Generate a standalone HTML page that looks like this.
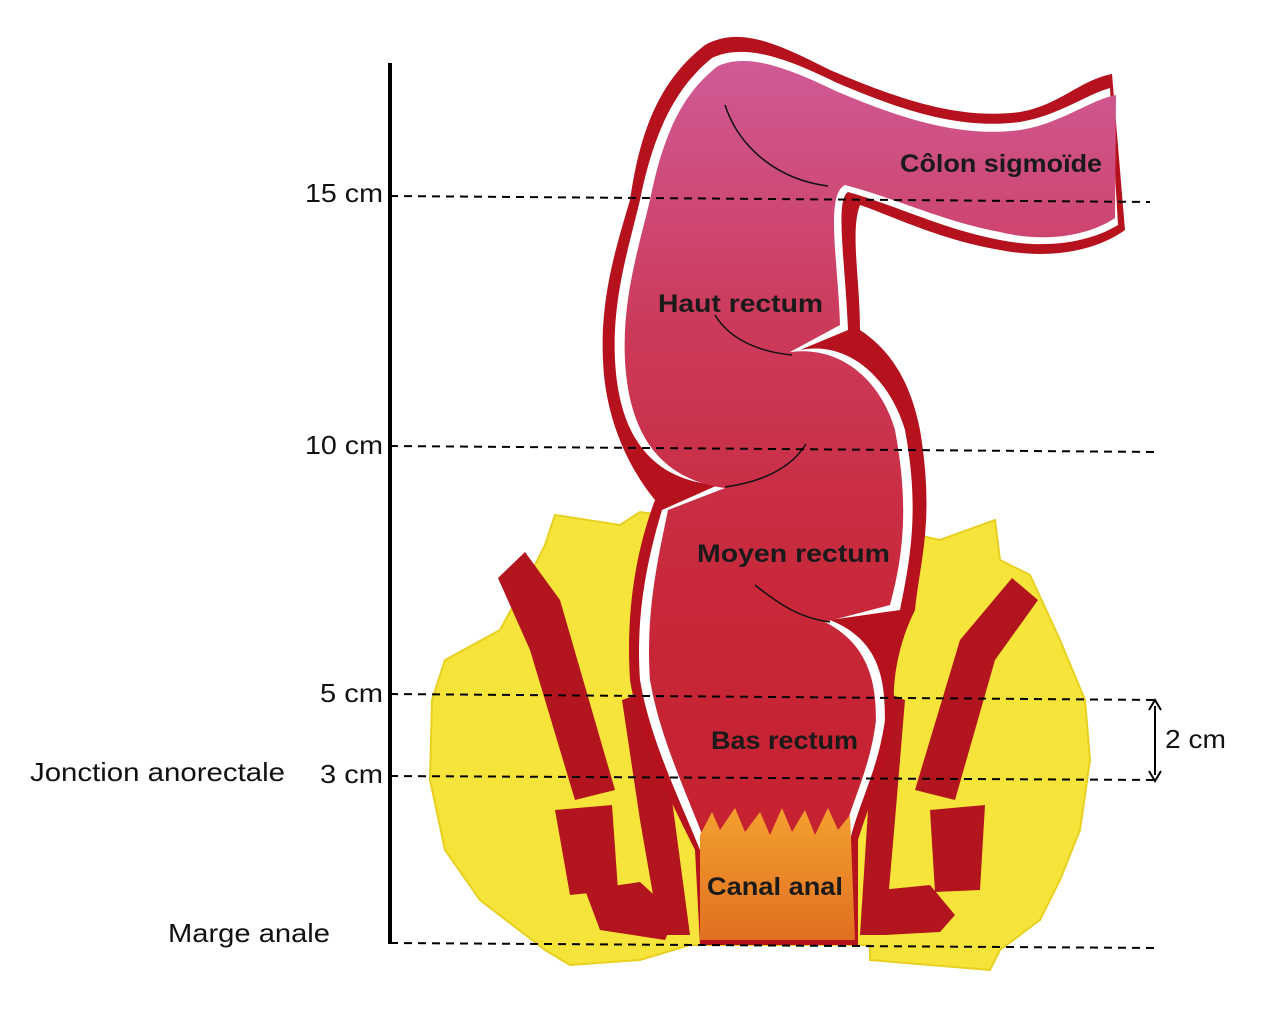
<!DOCTYPE html>
<html><head><meta charset="utf-8"><style>
html,body{margin:0;padding:0;background:#fff;}
svg{display:block}
text{font-family:"Liberation Sans",sans-serif;}
</style></head><body>
<svg width="1276" height="1036" viewBox="0 0 1276 1036" xmlns="http://www.w3.org/2000/svg">
<defs>
<linearGradient id="tube" x1="0" y1="0" x2="0" y2="1">
<stop offset="0" stop-color="#d05a96"/>
<stop offset="0.3" stop-color="#cc3a5a"/>
<stop offset="0.6" stop-color="#c8283a"/>
<stop offset="1" stop-color="#c41f2c"/>
</linearGradient>
<linearGradient id="canal" x1="0" y1="0" x2="0" y2="1">
<stop offset="0" stop-color="#f4a030"/>
<stop offset="1" stop-color="#e07020"/>
</linearGradient>
</defs>
<path d="M555 515 L620 525 L640 512 L700 520 L850 520 L940 540 L995 520 L1000 560 L1030 575 L1060 640 L1085 700 L1090 760 L1080 830 L1060 880 L1040 920 L1000 950 L990 970 L870 960 L870 945 L690 945 L640 960 L570 965 L545 950 L480 900 L445 850 L430 780 L432 700 L445 660 L500 630 L530 575 L545 545 Z" fill="#f7e43a" stroke="#e8d020" stroke-width="2"/>
<path d="M498 578 L525 552 L560 600 L615 790 L575 800 L530 650 Z" fill="#b3151f"/>
<path d="M555 810 L612 805 L618 890 L570 895 Z" fill="#b3151f"/>
<path d="M585 890 L640 882 L676 915 L665 940 L600 930 Z" fill="#b3151f"/>
<path d="M622 700 L650 690 L672 800 L690 935 L660 935 L640 820 Z" fill="#b3151f"/>
<path d="M1038 600 L1012 578 L960 640 L915 790 L955 800 L995 660 Z" fill="#b3151f"/>
<path d="M930 810 L985 805 L980 890 L935 892 Z" fill="#b3151f"/>
<path d="M880 890 L930 885 L955 915 L940 932 L885 935 Z" fill="#b3151f"/>
<path d="M880 690 L905 700 L895 820 L885 935 L860 935 L868 810 Z" fill="#b3151f"/>
<path d="M705 45 C740 25 780 45 830 70 C900 100 960 120 1020 112 C1060 105 1080 80 1112 74 L1125 230 C1090 255 1040 258 1000 250 C940 240 890 215 860 205 C850 230 860 280 860 330 C890 350 910 380 920 430 C935 520 920 560 915 610 C900 640 890 680 895 720 C890 760 870 800 858 840 L858 945 L700 945 L695 850 C670 800 640 740 630 680 C625 600 640 540 655 500 C630 470 605 420 603 360 C600 300 615 250 630 200 C640 130 660 80 705 45 Z" fill="#b5121d"/>
<path d="M712 58 C745 42 790 60 835 82 C900 110 960 130 1020 122 C1060 115 1085 95 1110 88 L1118 225 C1085 245 1040 248 1000 240 C945 230 895 205 848 192 C835 200 845 260 848 330 L800 350 C850 340 890 380 905 430 C920 510 910 560 900 610 L830 620 C880 640 885 680 885 720 C878 770 860 800 850 840 L850 940 L705 940 L700 850 C680 800 650 740 640 680 C635 610 650 550 662 510 L718 485 C640 480 618 420 615 360 C612 300 628 250 640 200 C652 140 672 90 712 58 Z" fill="#fff"/>
<path d="M718 66 C750 52 792 70 838 92 C900 118 960 138 1020 130 C1060 124 1090 100 1116 95 L1115 218 C1085 238 1040 242 1000 232 C945 222 895 198 845 185 C825 195 838 260 840 325 L790 352 C845 345 882 385 895 430 C910 510 902 560 890 605 L825 622 C870 645 876 685 876 720 C870 770 852 800 842 840 L842 940 L712 940 L708 850 C690 800 660 740 650 680 C645 610 660 550 668 510 L725 488 C650 478 628 420 625 360 C622 300 638 250 650 200 C662 140 680 95 718 66 Z" fill="url(#tube)"/>
<path d="M700 835 L712 812 L720 830 L735 808 L745 832 L760 812 L770 835 L782 808 L792 832 L805 810 L815 835 L828 808 L838 830 L850 815 L855 940 L700 940 Z" fill="url(#canal)"/>
<g fill="none" stroke="#111" stroke-width="1.5">
<path d="M725 105 C740 150 780 180 828 186"/>
<path d="M715 315 C730 340 760 352 792 355"/>
<path d="M806 444 C790 470 760 482 725 487"/>
<path d="M755 585 C780 605 800 618 830 622"/>
</g>
<line x1="390" y1="63" x2="390" y2="944" stroke="#000" stroke-width="4"/>
<g stroke="#000" stroke-width="2" stroke-dasharray="8,6">
<line x1="390" y1="196" x2="1150" y2="202"/>
<line x1="390" y1="446" x2="1158" y2="452"/>
<line x1="390" y1="694" x2="1158" y2="700"/>
<line x1="390" y1="776" x2="1158" y2="780"/>
<line x1="390" y1="943" x2="1158" y2="948"/>
</g>
<line x1="1155" y1="706" x2="1155" y2="775" stroke="#000" stroke-width="2"/>
<path d="M1149 710 L1155 700 L1161 710 M1149 771 L1155 781 L1161 771" fill="none" stroke="#000" stroke-width="2"/>
<g font-size="26" fill="#111">
<text x="305" y="202" textLength="78" lengthAdjust="spacingAndGlyphs">15 cm</text>
<text x="305" y="454" textLength="78" lengthAdjust="spacingAndGlyphs">10 cm</text>
<text x="320" y="702" textLength="63" lengthAdjust="spacingAndGlyphs">5 cm</text>
<text x="320" y="783" textLength="63" lengthAdjust="spacingAndGlyphs">3 cm</text>
<text x="30" y="781" textLength="255" lengthAdjust="spacingAndGlyphs">Jonction anorectale</text>
<text x="168" y="942" textLength="162" lengthAdjust="spacingAndGlyphs">Marge anale</text>
<text x="1165" y="748" textLength="61" lengthAdjust="spacingAndGlyphs">2 cm</text>
</g>
<g font-size="25" font-weight="bold" fill="#1a1a1a">
<text x="900" y="172" textLength="202" lengthAdjust="spacingAndGlyphs">Côlon sigmoïde</text>
<text x="658" y="312" textLength="165" lengthAdjust="spacingAndGlyphs">Haut rectum</text>
<text x="697" y="562" textLength="193" lengthAdjust="spacingAndGlyphs">Moyen rectum</text>
<text x="711" y="749" textLength="147" lengthAdjust="spacingAndGlyphs">Bas rectum</text>
<text x="707" y="895" textLength="136" lengthAdjust="spacingAndGlyphs">Canal anal</text>
</g>
</svg>
</body></html>
